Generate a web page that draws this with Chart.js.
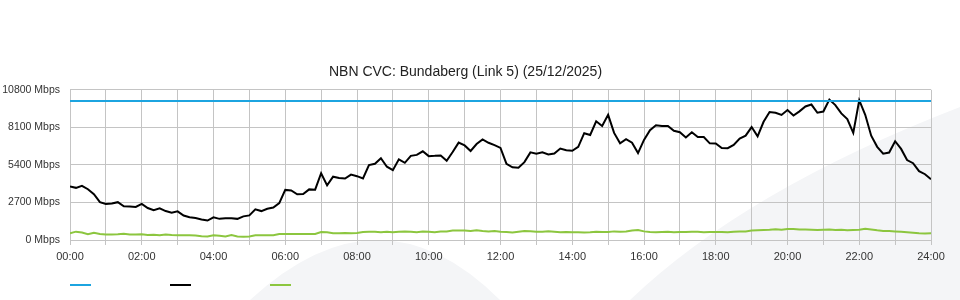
<!DOCTYPE html>
<html lang="en">
<head>
  <meta charset="UTF-8">
  <title>NBN CVC: Bundaberg (Link 5)</title>
  <script src="https://cdn.jsdelivr.net/npm/chart.js"></script>
  <style>
    html, body { margin: 0; padding: 0; background: #fff; }
    .wrap { position: relative; width: 960px; height: 300px; }
    .legend span { position: absolute; top: 284px; width: 21px; height: 2px; }
  </style>
</head>
<body>

  <div class="wrap">
    <canvas id="cvcChart" width="960" height="300"></canvas>
    <div class="legend" id="legend"></div>
  </div>

  <script>
    // readings every 10 minutes from 00:00 to 24:00 (Mbps)
    const stepMinutes = 10;
    const capacity = 10000;

    const usage = [
      3850, 3750, 3900, 3650, 3300, 2720, 2590, 2620, 2720, 2420, 2400, 2380,
      2600, 2300, 2150, 2280, 2080, 1960, 2060, 1760, 1640, 1580, 1480, 1400,
      1630, 1520, 1560, 1560, 1520, 1700, 1770, 2200, 2080, 2250, 2330, 2650,
      3600, 3560, 3290, 3300, 3640, 3620, 4800, 3930, 4550, 4460, 4420, 4700,
      4590, 4420, 5390, 5480, 5880, 5270, 5020, 5800, 5550, 6050, 6120, 6380,
      6030, 6050, 6080, 5700, 6330, 7000, 6800, 6400, 6900, 7230, 6990, 6820,
      6620, 5480, 5230, 5200, 5600, 6300, 6210, 6300, 6150, 6220, 6580, 6450,
      6420, 6700, 7680, 7550, 8540, 8200, 9000, 7700, 6960, 7250, 7000, 6250,
      7200, 7900, 8250, 8200, 8200, 7850, 7750, 7370, 7750, 7400, 7400, 6950,
      6940, 6610, 6600, 6840, 7300, 7500, 8120, 7450, 8500, 9200, 9150, 8990,
      9350, 8950, 9250, 9600, 9740, 9150, 9240, 10100, 9700, 9100, 8700, 7700,
      10050, 9000, 7500, 6700, 6200, 6290, 7100, 6550, 5750, 5520, 4950, 4730,
      4370
    ];

    const baseline = [
      480, 600, 540, 420, 520, 430, 400, 400, 410, 450, 400, 400,
      410, 360, 380, 350, 400, 360, 350, 340, 340, 330, 270, 260,
      340, 300, 260, 350, 250, 240, 250, 340, 340, 340, 350, 430,
      430, 430, 430, 440, 430, 440, 580, 560, 480, 490, 500, 490,
      500, 580, 600, 590, 560, 600, 560, 590, 610, 600, 560, 610,
      600, 560, 610, 620, 690, 680, 690, 640, 700, 650, 620, 640,
      600, 580, 540, 600, 640, 630, 600, 590, 620, 590, 560, 580,
      550, 560, 540, 560, 600, 580, 580, 620, 600, 610, 680, 720,
      620, 580, 560, 580, 600, 560, 580, 580, 590, 590, 560, 570,
      580, 580, 560, 600, 620, 620, 680, 700, 720, 740, 780, 730,
      790, 790, 760, 750, 740, 720, 740, 760, 720, 740, 700, 720,
      740, 800, 760, 700, 650, 640, 620, 600, 560, 520, 480, 470,
      480
    ];

    const yTicks = [0, 2700, 5400, 8100, 10800];

    const toPoints = arr => arr.map((v, i) => ({ x: i * stepMinutes, y: v }));

    function hhmm(min) {
      const h = Math.floor(min / 60);
      return String(h).padStart(2, '0') + ':00';
    }

    // faint swoosh watermark behind the plot
    const watermark = {
      id: 'watermark',
      beforeDraw(chart) {
        const c = chart.ctx;
        c.save();
        c.fillStyle = '#f4f5f7';
        c.beginPath();
        c.moveTo(630, 300);
        c.quadraticCurveTo(745, 190, 960, 107);
        c.lineTo(960, 300);
        c.closePath();
        c.fill();
        c.beginPath();
        c.moveTo(250, 300);
        c.quadraticCurveTo(380, 180, 500, 300);
        c.closePath();
        c.fill();
        c.restore();
      }
    };

    const chart = new Chart(document.getElementById('cvcChart'), {
      type: 'line',
      data: {
        datasets: [
          {
            label: 'Capacity',
            data: [{ x: 0, y: capacity }, { x: 1440, y: capacity }],
            borderColor: '#1ca4e0',
            borderWidth: 2,
            pointRadius: 0
          },
          {
            label: 'Usage',
            data: toPoints(usage),
            borderColor: '#000000',
            borderWidth: 2,
            pointRadius: 0,
            tension: 0
          },
          {
            label: 'Baseline',
            data: toPoints(baseline),
            borderColor: '#8cc63f',
            borderWidth: 2,
            pointRadius: 0,
            tension: 0
          }
        ]
      },
      options: {
        responsive: false,
        animation: false,
        layout: { padding: { left: 0, right: 29, top: 0, bottom: 34 } },
        scales: {
          x: {
            type: 'linear',
            min: 0,
            max: 1440,
            afterFit: axis => { axis.height = 26; },
            ticks: {
              stepSize: 60,
              autoSkip: false,
              maxRotation: 0,
              padding: 5,
              color: '#333',
              font: { family: 'Liberation Sans', size: 11 },
              callback: v => (v % 120 === 0 ? hhmm(v) : '')
            },
            grid: { color: '#c4c4c4', tickLength: 5, drawTicks: true },
            border: { display: false }
          },
          y: {
            min: 0,
            max: 10800,
            afterBuildTicks: axis => { axis.ticks = yTicks.map(v => ({ value: v })); },
            afterFit: axis => { axis.width = 70; },
            ticks: {
              padding: 10,
              color: '#333',
              font: { family: 'Liberation Sans', size: 10.5 },
              callback: v => v + ' Mbps'
            },
            grid: { color: '#c4c4c4', drawTicks: false },
            border: { display: false }
          }
        },
        plugins: {
          legend: { display: false },
          tooltip: { enabled: false },
          title: {
            display: true,
            text: 'NBN CVC: Bundaberg (Link 5) (25/12/2025)',
            color: '#222',
            font: { family: 'Liberation Sans', size: 14, weight: 'normal' },
            padding: { top: 64, bottom: 9 }
          }
        }
      },
      plugins: [watermark]
    });

    // legend: coloured strokes only, no text
    const legend = document.getElementById('legend');
    chart.data.datasets.forEach((ds, i) => {
      const s = document.createElement('span');
      s.style.left = (70 + i * 100) + 'px';
      s.style.background = ds.borderColor;
      legend.appendChild(s);
    });
  </script>

</body>
</html>
